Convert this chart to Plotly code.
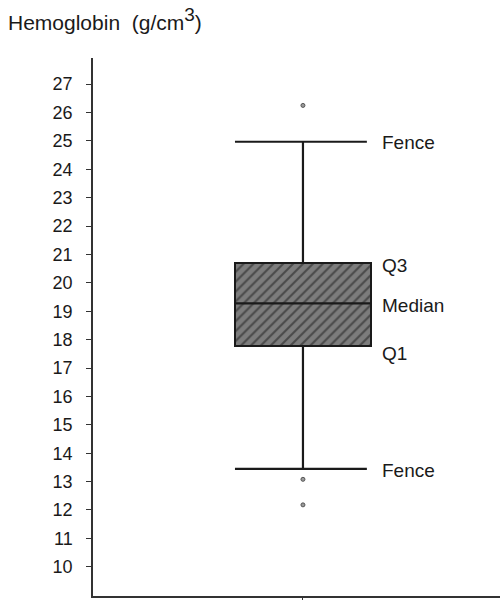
import plotly.graph_objects as go

# Data (g/cm^3)
q1 = 17.78
median = 19.28
q3 = 20.70
upper_fence = 24.97
lower_fence = 13.45
outliers = [26.25, 13.08, 12.18]
y_ticks = list(range(10, 28))
labels = ["Fence", "Q3", "Median", "Q1", "Fence"]
label_y = [24.95, 20.62, 19.2, 17.52, 13.4]

FONT = "Liberation Sans, Arial, sans-serif"
INK = "#1a1a1a"

fig = go.Figure()

# hatched box
fig.add_trace(go.Bar(
    x=[0], y=[q3 - q1], base=[q1], width=[1.0],
    marker=dict(color="#7c7c7c",
                line=dict(color=INK, width=2),
                pattern=dict(shape="/", fgcolor="#151515", bgcolor="#7c7c7c",
                             size=7, solidity=0.3)),
    hoverinfo="skip", showlegend=False))

# median
fig.add_trace(go.Scatter(x=[-0.5, 0.5], y=[median, median], mode="lines",
                         line=dict(color=INK, width=2.2), showlegend=False, hoverinfo="skip"))
# whiskers
fig.add_trace(go.Scatter(x=[0, 0, None, 0, 0], y=[q3, upper_fence, None, q1, lower_fence],
                         mode="lines", line=dict(color=INK, width=2.2), showlegend=False, hoverinfo="skip"))
# fences
fig.add_trace(go.Scatter(x=[-0.5, 0.47, None, -0.5, 0.47],
                         y=[upper_fence, upper_fence, None, lower_fence, lower_fence],
                         mode="lines", line=dict(color=INK, width=2.2), showlegend=False, hoverinfo="skip"))
# outliers
fig.add_trace(go.Scatter(x=[0] * len(outliers), y=outliers, mode="markers",
                         marker=dict(size=4, color="#9a9a9a", line=dict(color="#555", width=1)),
                         showlegend=False, hoverinfo="skip"))

for t, yv in zip(labels, label_y):
    fig.add_annotation(x=0.57, y=yv, text=t, showarrow=False, xanchor="left",
                       yanchor="middle", font=dict(family=FONT, size=19, color=INK))

fig.update_layout(
    width=500, height=600,
    margin=dict(l=93, r=0, t=58, b=4),
    paper_bgcolor="white", plot_bgcolor="white",
    bargap=0,
    title=dict(text="Hemoglobin  (g/cm<sup><span style='font-size:19px'>3</span></sup>)",
               xref="container", yref="container",
               x=0.016, y=0.962, xanchor="left", yanchor="middle",
               font=dict(family=FONT, size=21, color=INK)),
    xaxis=dict(range=[-1.544, 1.449], showgrid=False, zeroline=False,
               showline=True, linecolor="#333", linewidth=1.5,
               tickmode="array", tickvals=[0], showticklabels=False, ticks="outside",
               ticklen=5, tickcolor="#333"),
    yaxis=dict(range=[8.97, 27.92], showgrid=False, zeroline=False,
               showline=True, linecolor="#333", linewidth=1.5,
               tickmode="array", tickvals=y_ticks, ticks="outside", ticklen=5,
               tickcolor="#333", ticklabelstandoff=10,
               tickfont=dict(family=FONT, size=18, color=INK)),
)

fig.write_html("out.html")
